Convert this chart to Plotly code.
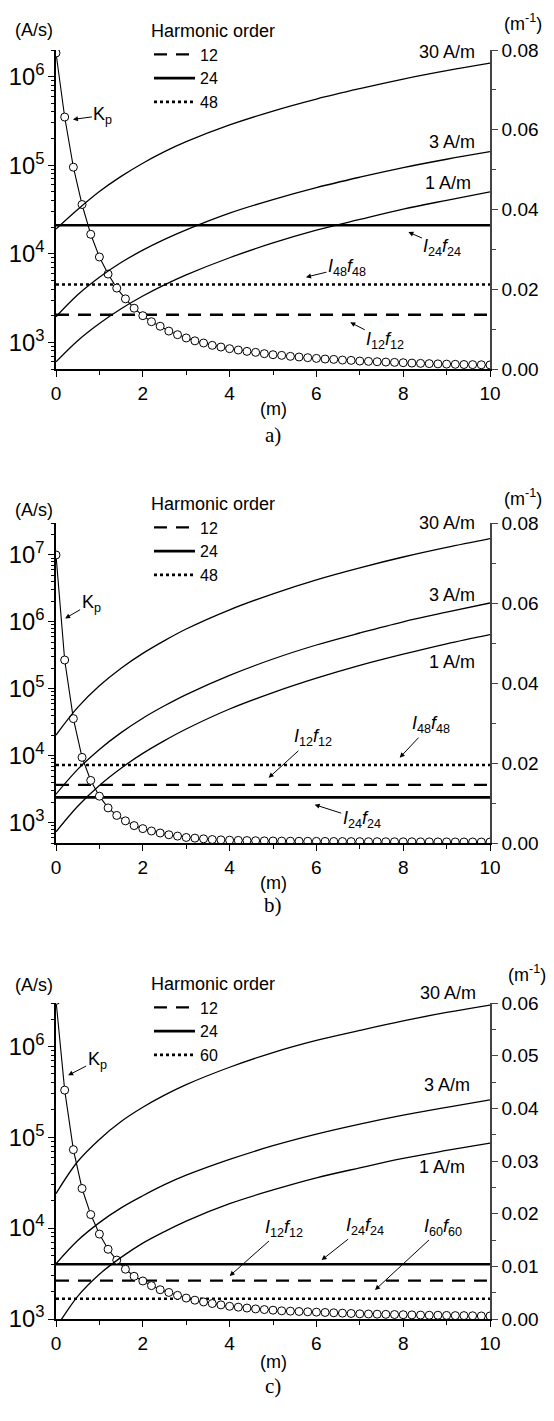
import math
import plotly.graph_objects as go

# ---------------- data ----------------
KP_X = [0.0, 0.2, 0.4, 0.6, 0.8, 1.0, 1.2, 1.4, 1.6, 1.8, 2.0, 2.2, 2.4, 2.6, 2.8, 3.0,
        3.2, 3.4, 3.6, 3.8, 4.0, 4.2, 4.4, 4.6, 4.8, 5.0, 5.2, 5.4, 5.6, 5.8, 6.0, 6.2,
        6.4, 6.6, 6.8, 7.0, 7.2, 7.4, 7.6, 7.8, 8.0, 8.2, 8.4, 8.6, 8.8, 9.0, 9.2, 9.4,
        9.6, 9.8, 10.0]
X_SPAN = [0, 10]
CURVE_X = [0, 0.5, 1, 1.5, 2, 2.5, 3, 4, 5, 6, 7, 8, 9, 10]

# panel a
A_KP = [1.85e6, 3.5e5, 9.5e4, 3.6e4, 1.66e4, 9.2e3, 5.9e3, 4.1e3, 3.1e3, 2.43e3, 2.0e3,
        1.71e3, 1.52e3, 1.34e3, 1.22e3, 1.12e3, 1.04e3, 983, 925, 885, 848, 819, 791, 771,
        745, 725, 713, 695, 683, 671, 659, 648, 642, 631, 626, 615, 610, 604, 599, 594, 589,
        583, 579, 575, 571, 568, 565, 562, 560, 558, 556]
A_HARM = ["12", "24", "48"]
A_HLINE = [2.05e3, 2.1e4, 4.5e3]
A_30 = [0.0351, 0.0400, 0.0445, 0.0483, 0.0516, 0.0545, 0.0570, 0.0612, 0.0647, 0.0677,
        0.0703, 0.0727, 0.0748, 0.0767]
A_3 = [0.0131, 0.0186, 0.0230, 0.0267, 0.0298, 0.0325, 0.0349, 0.0391, 0.0425, 0.0455,
       0.0481, 0.0505, 0.0526, 0.0545]
A_1 = [0.0018, 0.0071, 0.0114, 0.0151, 0.0183, 0.0211, 0.0236, 0.0279, 0.0316, 0.0348,
       0.0375, 0.0401, 0.0423, 0.0444]

# panel b
B_KP = [1.0e7, 2.7e5, 3.6e4, 9.5e3, 4.3e3, 2.5e3, 1.67e3, 1.29e3, 1.07e3, 910, 820, 755,
        705, 664, 634, 605, 591, 577, 564, 557, 551, 547, 544, 541, 538, 536, 534, 532, 531,
        530, 529, 528, 527, 526, 525, 524, 523, 523, 522, 522, 521, 521, 520, 520, 519, 519,
        518, 518, 518, 517, 517]
B_HARM = ["12", "24", "48"]
B_HLINE = [3.7e3, 2.4e3, 7.3e3]
B_30 = [0.0270, 0.0339, 0.0393, 0.0437, 0.0474, 0.0506, 0.0535, 0.0583, 0.0623, 0.0658,
        0.0688, 0.0715, 0.0739, 0.0761]
B_3 = [0.0122, 0.0184, 0.0234, 0.0276, 0.0312, 0.0343, 0.0371, 0.0419, 0.0460, 0.0495,
       0.0525, 0.0553, 0.0577, 0.0600]
B_1 = [0.0028, 0.0092, 0.0144, 0.0187, 0.0224, 0.0256, 0.0285, 0.0335, 0.0376, 0.0412,
       0.0444, 0.0472, 0.0498, 0.0521]

# panel c
C_KP = [3.2e6, 3.3e5, 7.3e4, 2.73e4, 1.41e4, 8.6e3, 5.85e3, 4.45e3, 3.53e3, 2.95e3, 2.62e3,
        2.33e3, 2.10e3, 1.96e3, 1.82e3, 1.70e3, 1.61e3, 1.54e3, 1.48e3, 1.43e3, 1.38e3,
        1.35e3, 1.32e3, 1.29e3, 1.27e3, 1.25e3, 1.23e3, 1.22e3, 1.21e3, 1.20e3, 1.19e3,
        1.18e3, 1.17e3, 1.16e3, 1.15e3, 1.14e3, 1.135e3, 1.13e3, 1.125e3, 1.12e3, 1.115e3,
        1.11e3, 1.105e3, 1.10e3, 1.10e3, 1.095e3, 1.09e3, 1.09e3, 1.085e3, 1.08e3, 1.08e3]
C_HARM = ["12", "24", "60"]
C_HLINE = [2.64e3, 4.0e3, 1.67e3]
C_30 = [0.0238, 0.0299, 0.0341, 0.0375, 0.0402, 0.0425, 0.0445, 0.0478, 0.0506, 0.0529,
        0.0548, 0.0566, 0.0582, 0.0596]
C_3 = [0.0105, 0.0149, 0.0183, 0.0211, 0.0234, 0.0255, 0.0273, 0.0303, 0.0329, 0.0351,
       0.0370, 0.0387, 0.0402, 0.0416]
C_1 = [-0.0017, 0.0043, 0.0085, 0.0117, 0.0144, 0.0166, 0.0186, 0.0219, 0.0245, 0.0268,
       0.0287, 0.0305, 0.0320, 0.0334]

CURVE_LABELS = ["30 A/m", "3 A/m", "1 A/m"]

# ---------------- styling ----------------
W, H = 554, 1421
L_PX, R_PX = 56, 490
SANS = "Liberation Sans, Arial, sans-serif"
SERIF = "Liberation Serif, Times New Roman, serif"
FS = 18

def py(px):
    return 1 - px / H

def pxx(px):
    return (px - L_PX) / (R_PX - L_PX)

panels = [
    dict(kp=A_KP, harm=A_HARM, hl=A_HLINE, curves=[A_30, A_3, A_1],
         top=50, bot=369, yl=[math.log10(500), math.log10(2e6)], yr=[0, 0.08], rdt=0.02,
         legend="legend"),
    dict(kp=B_KP, harm=B_HARM, hl=B_HLINE, curves=[B_30, B_3, B_1],
         top=523, bot=843, yl=[math.log10(500), math.log10(3e7)], yr=[0, 0.08], rdt=0.02,
         legend="legend2"),
    dict(kp=C_KP, harm=C_HARM, hl=C_HLINE, curves=[C_30, C_3, C_1],
         top=1003, bot=1319, yl=[3, math.log10(3e6)], yr=[0, 0.06], rdt=0.01,
         legend="legend3"),
]

DASHES = ["13px,9px", "solid", "dot"]
WIDTHS = [2.3, 2.6, 2.6]

fig = go.Figure()
layout = dict(width=W, height=H, margin=dict(l=L_PX, r=W - R_PX, t=0, b=0),
              paper_bgcolor="white", plot_bgcolor="white", template="none",
              font=dict(family=SANS, size=FS, color="black"),
              showlegend=True)

annotations = []
for i, p in enumerate(panels):
    xa = "x" if i == 0 else f"x{i+1}"
    yl = "y" if i == 0 else f"y{2*i+1}"
    yr = f"y{2*i+2}"
    xkey = "xaxis" if i == 0 else f"xaxis{i+1}"
    ylkey = "yaxis" if i == 0 else f"yaxis{2*i+1}"
    yrkey = f"yaxis{2*i+2}"

    for cy in p["curves"]:
        fig.add_trace(go.Scatter(x=CURVE_X, y=cy, xaxis=xa, yaxis=yr, mode="lines",
                                 line=dict(color="black", width=1.3, shape="spline", smoothing=1),
                                 showlegend=False, hoverinfo="skip"))
    for k, (name, val) in enumerate(zip(p["harm"], p["hl"])):
        fig.add_trace(go.Scatter(x=X_SPAN, y=[val, val], xaxis=xa, yaxis=yl, mode="lines",
                                 name=name, legend=p["legend"],
                                 line=dict(color="black", width=WIDTHS[k], dash=DASHES[k])))
    fig.add_trace(go.Scatter(x=KP_X, y=p["kp"], xaxis=xa, yaxis=yl, mode="lines+markers",
                             line=dict(color="black", width=1.1),
                             marker=dict(symbol="circle", size=8, color="white",
                                         line=dict(color="black", width=1)),
                             showlegend=False))

    dom = [py(p["bot"]), py(p["top"])]
    layout[xkey] = dict(domain=[0, 1], anchor=yl, range=[0, 10], dtick=2, tick0=0,
                        showline=True, linecolor="black", linewidth=1.5, ticks="outside",
                        ticklen=6, tickwidth=1.3, tickcolor="black", showgrid=False, zeroline=False,
                        tickfont=dict(size=19), minor=dict(dtick=1, ticks="outside", ticklen=4,
                                                           tickcolor="black", showgrid=False))
    layout[ylkey] = dict(domain=dom, anchor=xa, type="log", range=p["yl"], dtick=1,
                         exponentformat="power", showline=True, linecolor="black", linewidth=1.5,
                         ticks="outside", ticklen=6, tickwidth=1.3, tickcolor="black",
                         showgrid=False, zeroline=False, tickfont=dict(size=19),
                         minor=dict(dtick="D1", ticks="outside", ticklen=3, tickcolor="black",
                                    showgrid=False))
    layout[yrkey] = dict(overlaying=yl, anchor=xa, side="right", range=p["yr"], dtick=p["rdt"],
                         tickformat=".2f", showline=True, linecolor="#444", linewidth=1.5,
                         ticks="outside", ticklen=6, tickwidth=1.3, tickcolor="#444",
                         showgrid=False, zeroline=False, tickfont=dict(size=19),
                         minor=dict(dtick=p["rdt"] / 2, ticks="outside", ticklen=4,
                                    tickcolor="#444", showgrid=False))
    layout[p["legend"]] = dict(x=pxx(149), y=py(p["top"] - 36), xanchor="left", yanchor="top",
                               bgcolor="rgba(0,0,0,0)", itemwidth=41,
                               title=dict(text="Harmonic order", font=dict(size=FS)),
                               font=dict(size=16), tracegroupgap=0)

fig.update_layout(**layout)

def label(text, xpx, ypx, anchor="center", size=FS, family=SANS):
    annotations.append(dict(text=text, xref="paper", yref="paper", x=pxx(xpx), y=py(ypx),
                            xanchor=anchor, yanchor="middle", showarrow=False,
                            font=dict(size=size, family=family)))

def arrow(text, xa, yl, tipx, tiplog, ax, ay):
    annotations.append(dict(text=text, xref=xa, yref=yl, x=tipx, y=tiplog, ax=ax, ay=ay,
                            showarrow=True, arrowhead=2, arrowsize=1, arrowwidth=1,
                            arrowcolor="black", font=dict(size=FS), standoff=0))

I24 = "<i>I</i><sub>24</sub><i>f</i><sub>24</sub>"
I12 = "<i>I</i><sub>12</sub><i>f</i><sub>12</sub>"
I48 = "<i>I</i><sub>48</sub><i>f</i><sub>48</sub>"
I60 = "<i>I</i><sub>60</sub><i>f</i><sub>60</sub>"
KP = "K<sub>p</sub>"

# panel a
label("(A/s)", 34, 30)
label("(m<sup>-1</sup>)", 544, 23, "right")
label(CURVE_LABELS[0], 477, 52, "right")
label(CURVE_LABELS[1], 477, 142, "right")
label(CURVE_LABELS[2], 473, 183, "right")
label("(m)", 273, 409)
label("a)", 273, 435, size=21, family=SERIF)
arrow(KP, "x", "y", 0.39, 5.517, 30, -4)
arrow(I24, "x", "y", 8.12, 4.245, 34, 15)
arrow(I48, "x", "y", 5.76, 3.736, 41, -10)
arrow(I12, "x", "y", 6.78, 3.226, 35, 18)

# panel b
label("(A/s)", 34, 510)
label("(m<sup>-1</sup>)", 544, 498, "right")
label(CURVE_LABELS[0], 477, 523, "right")
label(CURVE_LABELS[1], 477, 595, "right")
label(CURVE_LABELS[2], 477, 662, "right")
label("(m)", 273, 883)
label("b)", 273, 905, size=21, family=SERIF)
arrow(KP, "x2", "y3", 0.21, 6.053, 26, -15)
arrow(I12, "x2", "y3", 4.9, 3.672, 44, -40)
arrow(I48, "x2", "y3", 7.92, 3.973, 31, -33)
arrow(I24, "x2", "y3", 5.96, 3.271, 47, 15)

# panel c
label("(A/s)", 34, 985)
label("(m<sup>-1</sup>)", 548, 973, "right")
label(CURVE_LABELS[0], 478, 993, "right")
label(CURVE_LABELS[1], 472, 1085, "right")
label(CURVE_LABELS[2], 467, 1167, "right")
label("(m)", 273, 1362)
label("c)", 273, 1386, size=21, family=SERIF)
arrow(KP, "x3", "y5", 0.28, 5.681, 29, -15)
arrow(I12, "x3", "y5", 4.0, 3.473, 54, -48)
arrow(I24, "x3", "y5", 6.12, 3.648, 43, -34)
arrow(I60, "x3", "y5", 7.35, 3.319, 68, -63)

fig.update_layout(annotations=annotations)
fig.write_html("out.html", config={"displayModeBar": False},
               post_script="document.body.style.margin='0';document.body.style.overflow='hidden';")
